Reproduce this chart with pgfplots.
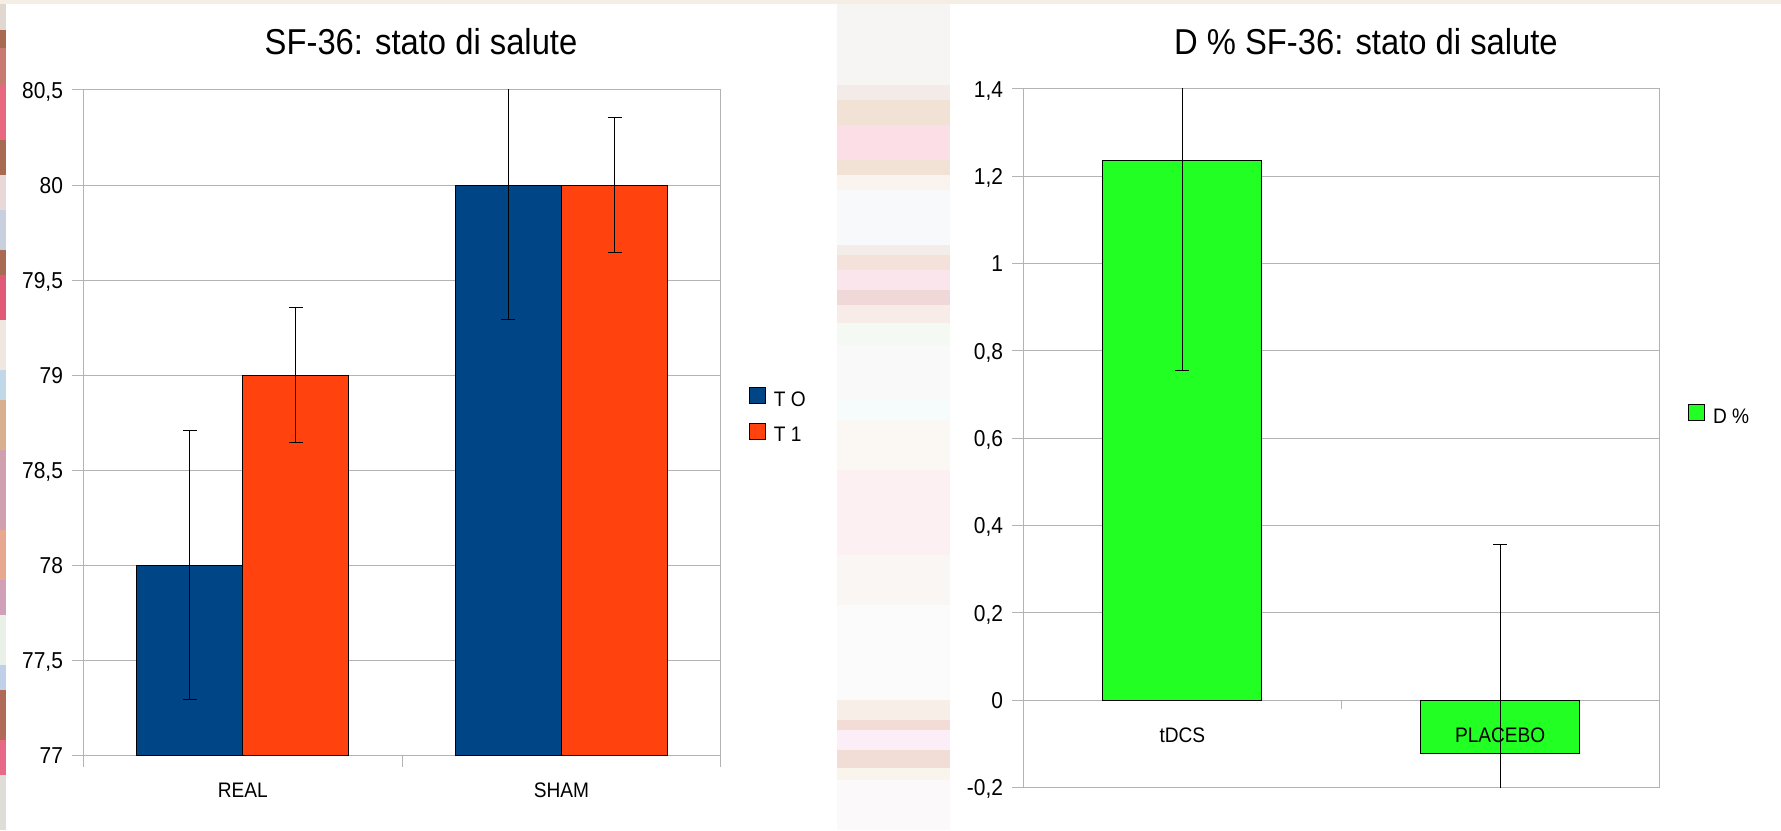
\documentclass[border=0pt]{standalone}
\usepackage{fontspec}
\setmainfont{Liberation Sans}[FakeStretch=0.91]
\usepackage{pgfplots}
\pgfplotsset{compat=1.18}
\definecolor{gridgray}{HTML}{B3B3B3}
\definecolor{cblue}{HTML}{004586}
\definecolor{corange}{HTML}{FF420E}
\definecolor{cgreen}{HTML}{22FF22}
\pgfplotsset{
  sqlegend/.style={legend image code/.code={\draw[##1, line width=0.5pt] (0pt,1.3pt) rectangle (8pt,9.3pt);}},
  errstyle/.style={error bars/.cd, y dir=both, y explicit,
    error bar style={black, line width=0.5pt},
    error mark options={rotate=90, mark size=3.5pt, black, line width=0.5pt}},
  mybase/.style={
    scale only axis, anchor=south west,
    xmin=0, xmax=2,
    axis line style={gridgray, line width=0.5pt},
    ymajorgrids, grid style={gridgray, line width=0.5pt},
    tick style={gridgray, line width=0.5pt},
    tick align=outside, major tick length=5.7pt,
    xtick pos=bottom, ytick pos=left,
    /pgf/number format/use comma,
    /pgf/number format/1000 sep={},
    /pgf/number format/assume math mode=true,
    yticklabel style={font=\fontsize{11.5}{13}\selectfont, inner sep=0pt, anchor=base east, yshift=-4.1pt, xshift=-4.35pt},
    xticklabel style={font=\fontsize{10.5}{12}\selectfont, inner sep=0pt, anchor=north},
    title style={font=\fontsize{18}{21}\selectfont, anchor=base, inner sep=0pt},
    legend style={draw=none, fill=none, inner sep=0pt, outer sep=0pt,
      font=\fontsize{10.5}{12}\selectfont,
      nodes={inner sep=0pt, anchor=base west}, row sep=6.7pt,
      /tikz/every odd column/.style={column sep=4pt}},
  },
}
\begin{document}
\begin{tikzpicture}
\fill[white] (0,0) rectangle (890.5pt,415pt);
% decorative background stripes (pixel coordinates)
\begin{scope}[x=0.5pt,y=-0.5pt,shift={(0pt,415pt)}]
\foreach \a/\b/\c in {0/85/F7F4F4,85/100/F3EBE8,100/125/F2E2D6,125/160/FCDFE6,160/175/F2E2D6,175/190/FBF3EE,190/245/F8F9FB,245/255/F3ECE8,255/270/F4E2DA,270/290/FBE5EC,290/305/F0D8D8,305/323/F8ECE8,323/345/F5F9F3,345/400/F9F9F9,400/420/F6FBFB,420/470/FBF7F2,470/555/FCF0F3,555/605/FAF6F3,605/700/FBFBFB,700/720/F8EEE8,720/730/F3DCD6,730/750/FBEEF6,750/768/F2DCD6,768/780/F9F5EC,780/830/FCF9FA}
  {\definecolor{tmpc}{HTML}{\c}\fill[tmpc] (837,\a) rectangle (950,\b);}
\foreach \a/\b/\c in {0/30/E0D8D0,30/48/A86A50,48/85/C87A70,85/140/E8687F,140/175/A86A50,175/210/E8D8D8,210/250/C8D0E0,250/275/A86A50,275/320/E05A78,320/370/F0E8E0,370/400/C0D8E8,400/450/D8B090,450/530/D0A0B0,530/580/E8A890,580/615/D0A0B8,615/665/E8F0E8,665/690/C0D0E8,690/740/B06A58,740/775/E86888,775/830/E0DCD8}
  {\definecolor{tmpc}{HTML}{\c}\fill[tmpc] (0,\a) rectangle (6,\b);}
\definecolor{topc}{HTML}{F5EEE4}
\fill[topc] (0,0) rectangle (1781,4);
\end{scope}

% ---------------- left chart ----------------
\begin{axis}[mybase,
  at={(41.7pt,37.25pt)}, width=318.7pt, height=332.75pt,
  ymin=77, ymax=80.5,
  ytick={77,77.5,78,78.5,79,79.5,80,80.5},
  xtick={0,1,2}, xticklabels={},
  extra x ticks={0.5,1.5}, extra x tick labels={REAL,SHAM},
  extra x tick style={xtick style={draw=none}, xticklabel style={yshift=-7.9pt}},
  title={SF-36: stato di salute},
  title style={at={(axis description cs:0.5297,1)}, yshift=11.8pt},
  legend style={at={(axis description cs:1,0.5099)}, anchor=west, xshift=14pt},
]
\addplot[ybar, bar width=0.3333, fill=cblue, draw=black, line width=0.5pt, sqlegend, errstyle]
  coordinates {(0.3333,78) +- (0,0.707) (1.3333,80) +- (0,0.707)};
\addlegendentry{T O}
\addplot[ybar, bar width=0.3333, fill=corange, draw=black, line width=0.5pt, sqlegend, errstyle]
  coordinates {(0.6667,79) +- (0,0.354) (1.6667,80) +- (0,0.354)};
\addlegendentry{T 1}
\end{axis}

% ---------------- right chart ----------------
\begin{axis}[mybase,
  at={(511.75pt,21.15pt)}, width=317.75pt, height=349.4pt,
  ymin=-0.2, ymax=1.4,
  ytick={-0.2,0,0.2,0.4,0.6,0.8,1,1.2,1.4},
  xtick={0.5,1.5}, xticklabels={},
  xtick style={draw=none},
  title={D \% SF-36: stato di salute},
  title style={at={(axis description cs:0.5388,1)}, yshift=11.25pt},
  legend style={at={(axis description cs:1,0.533)}, anchor=west, xshift=14.5pt},
]
\addplot[ybar, bar width=0.5, fill=cgreen, draw=black, line width=0.5pt, sqlegend, errstyle]
  coordinates {(0.5,1.235) +- (0,0.48) (1.5,-0.121) +- (0,0.478)};
\addlegendentry{D \%}
\draw[gridgray, line width=0.5pt] (axis cs:1,0) -- ++(0pt,-4.5pt);
\end{axis}
% overlay axis: category labels of the right chart, drawn above the bars
\begin{axis}[mybase,
  at={(511.75pt,21.15pt)}, width=317.75pt, height=349.4pt,
  ymin=-0.2, ymax=1.4,
  ymajorgrids=false, ytick=\empty,
  axis line style={draw=none},
  xtick={0.5,1.5}, xticklabels={tDCS,PLACEBO},
  xtick style={draw=none},
  xticklabel style={yshift=36.05pt},
]
\end{axis}
\pgfresetboundingbox
\path[use as bounding box] (0,0) rectangle (890.5pt,415pt);
\end{tikzpicture}
\end{document}
